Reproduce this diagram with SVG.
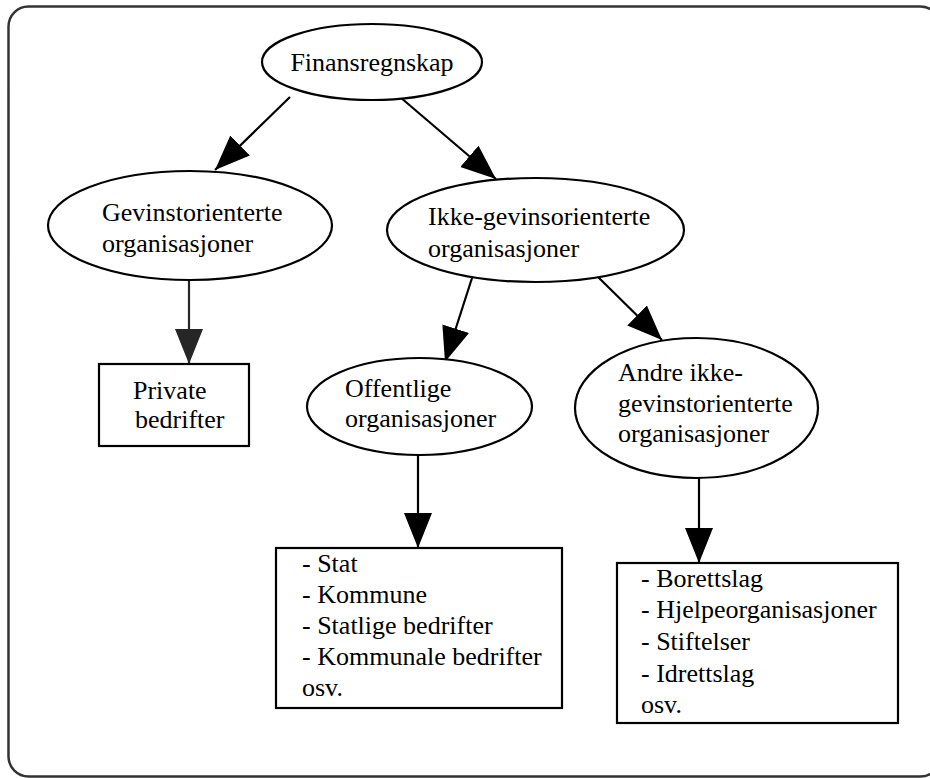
<svg xmlns="http://www.w3.org/2000/svg" width="930" height="778" viewBox="0 0 930 778">
<defs>
<marker id="ah" markerUnits="userSpaceOnUse" markerWidth="40" markerHeight="32" refX="35" refY="14" orient="auto">
<path d="M0,0 L35,14 L0,28 z" fill="#000"/>
</marker>
<marker id="ahg" markerUnits="userSpaceOnUse" markerWidth="40" markerHeight="32" refX="35" refY="14" orient="auto">
<path d="M0,0 L35,14 L0,28 z" fill="#262626"/>
</marker>
<style>
.t{font-family:"Liberation Serif","Times New Roman",serif;font-size:26px;fill:#000}
.n{fill:#fff;stroke:#000;stroke-width:2.2}
.e{stroke:#000;stroke-width:2.2;fill:none;marker-end:url(#ah)}
</style>
</defs>
<rect x="8.5" y="6.5" width="932" height="770" rx="20" fill="#fff" stroke="#333" stroke-width="2.5"/>
<g id="connectors">
<line class="e" x1="290" y1="97" x2="215" y2="170"/>
<line class="e" x1="400" y1="97" x2="496" y2="179"/>
<line class="e" x1="472" y1="278" x2="445" y2="362"/>
<line class="e" x1="597" y1="276" x2="662" y2="340"/>
<line class="e" x1="189" y1="280" x2="189" y2="364" style="stroke:#262626;marker-end:url(#ahg)"/>
<line class="e" x1="418" y1="455" x2="418" y2="548"/>
<line class="e" x1="699" y1="478" x2="699" y2="563"/>
</g>
<g id="finansregnskap">
<ellipse class="n" cx="372" cy="62" rx="110" ry="38"/>
<text class="t" x="372" y="71" text-anchor="middle">Finansregnskap</text>
</g>
<g id="gevinst">
<ellipse class="n" cx="190" cy="225.5" rx="142" ry="54.5"/>
<text class="t" x="102" y="221">Gevinstorienterte</text>
<text class="t" x="102" y="252">organisasjoner</text>
</g>
<g id="ikke">
<ellipse class="n" cx="535.5" cy="230" rx="148.5" ry="52"/>
<text class="t" x="428" y="225">Ikke-gevinsorienterte</text>
<text class="t" x="428" y="257">organisasjoner</text>
</g>
<g id="private">
<rect class="n" x="99" y="364" width="150" height="82"/>
<text class="t" x="133" y="399">Private</text>
<text class="t" x="135" y="428">bedrifter</text>
</g>
<g id="offentlige">
<ellipse class="n" cx="419.5" cy="406.5" rx="112.5" ry="48.5"/>
<text class="t" x="345" y="397">Offentlige</text>
<text class="t" x="345" y="427">organisasjoner</text>
</g>
<g id="andre">
<ellipse class="n" cx="696.5" cy="408" rx="121.5" ry="70"/>
<text class="t" x="618" y="381">Andre ikke-</text>
<text class="t" x="618" y="412">gevinstorienterte</text>
<text class="t" x="618" y="442">organisasjoner</text>
</g>
<g id="offentlige-liste">
<rect class="n" x="276" y="548" width="286" height="160"/>
<text class="t" x="302" y="572">- Stat</text>
<text class="t" x="302" y="603">- Kommune</text>
<text class="t" x="302" y="634">- Statlige bedrifter</text>
<text class="t" x="302" y="665">- Kommunale bedrifter</text>
<text class="t" x="302" y="696">osv.</text>
</g>
<g id="andre-liste">
<rect class="n" x="617" y="563" width="281" height="160"/>
<text class="t" x="641" y="587">- Borettslag</text>
<text class="t" x="641" y="618">- Hjelpeorganisasjoner</text>
<text class="t" x="641" y="650">- Stiftelser</text>
<text class="t" x="641" y="682">- Idrettslag</text>
<text class="t" x="641" y="713">osv.</text>
</g>
</svg>
